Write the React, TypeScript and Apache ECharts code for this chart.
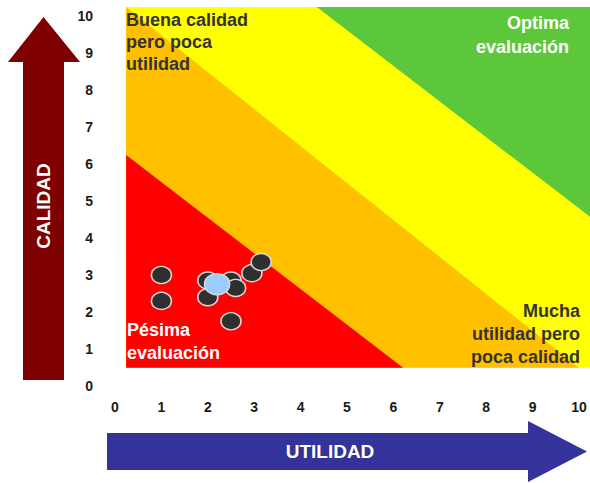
import React, { useEffect, useRef } from "react";
import * as echarts from "echarts";

// Data points (utilidad, calidad)
const utilidad = [1, 1, 2, 2, 2.5, 2.6, 2.95, 3.15, 2.5];
const calidad = [3, 2.3, 2.85, 2.4, 2.85, 2.65, 3.05, 3.35, 1.75];
const highlight = [2.2, 2.75];

const xTicks = [0, 10];
const yTicks = [0, 10];

// Background zones in data coordinates
const zoneYellow = [[0.24, 0.49], [10.24, 0.49], [10.24, 10.24], [0.24, 10.24]];
const zoneOrange = [[0.24, 10.24], [0.24, 0.49], [10.0, 0.49]];
const zoneRed = [[0.24, 6.24], [0.24, 0.49], [6.21, 0.49]];
const zoneGreen = [[4.35, 10.24], [10.24, 10.24], [10.24, 4.57]];
const zones = [zoneYellow, zoneOrange, zoneRed, zoneGreen];
const zoneColors = ["#FFFF00", "#FFC000", "#FF0000", "#5CC73B"];

const FONT = "'Liberation Sans', Arial, sans-serif";

export default function App() {
  const ref = useRef<HTMLDivElement>(null);
  useEffect(() => {
    if (!ref.current) return;
    const chart = echarts.init(ref.current, undefined, { renderer: "svg" });
    const option: any = {
      animation: false,
      backgroundColor: "#ffffff",
      grid: { left: 115, right: 11, top: 16, bottom: 97 },
      xAxis: {
        type: "value",
        min: xTicks[0],
        max: xTicks[1],
        interval: 1,
        axisLine: { show: false },
        axisTick: { show: false },
        splitLine: { show: false },
        axisLabel: { color: "#1a1a1a", fontWeight: "bold", fontSize: 14, fontFamily: FONT, margin: 14 },
      },
      yAxis: {
        type: "value",
        min: yTicks[0],
        max: yTicks[1],
        interval: 1,
        axisLine: { show: false },
        axisTick: { show: false },
        splitLine: { show: false },
        axisLabel: { color: "#1a1a1a", fontWeight: "bold", fontSize: 14, fontFamily: FONT, margin: 22 },
      },
      series: [
        {
          type: "custom",
          silent: true,
          clip: false,
          z: 1,
          data: zones.map((_, i) => [i, 0]),
          renderItem: (params: any, api: any) => {
            const pts = zones[params.dataIndex].map((p) => api.coord(p));
            return {
              type: "polygon",
              shape: { points: pts },
              style: { fill: zoneColors[params.dataIndex] },
            };
          },
        },
        {
          type: "scatter",
          z: 3,
          symbol: "circle",
          symbolSize: [20, 17],
          itemStyle: { color: "#2f2f2f", borderColor: "#d9d9d9", borderWidth: 1.5, opacity: 1 },
          data: utilidad.map((u, i) => [u, calidad[i]]),
        },
        {
          type: "scatter",
          z: 4,
          symbol: "circle",
          symbolSize: [25, 21],
          itemStyle: { color: "#99CCFF", borderColor: "#d9d9d9", borderWidth: 1.5, opacity: 1 },
          data: [highlight],
        },
      ],
      graphic: [
        // vertical arrow
        {
          type: "polygon",
          shape: {
            points: [[23, 380], [64, 380], [64, 62], [80, 62], [43.5, 17], [8, 62], [23, 62]],
          },
          style: { fill: "#7F0000" },
        },
        {
          type: "text",
          x: 43.5,
          y: 206,
          rotation: Math.PI / 2,
          style: {
            text: "CALIDAD",
            fill: "#ffffff",
            fontSize: 19,
            fontWeight: "bold",
            fontFamily: FONT,
            align: "center",
            verticalAlign: "middle",
          },
        },
        // horizontal arrow
        {
          type: "polygon",
          shape: {
            points: [[107, 433], [528, 433], [528, 421], [587, 451.5], [528, 482], [528, 470], [107, 470]],
          },
          style: { fill: "#333399" },
        },
        {
          type: "text",
          x: 330,
          y: 451,
          style: {
            text: "UTILIDAD",
            fill: "#ffffff",
            fontSize: 19,
            fontWeight: "bold",
            fontFamily: FONT,
            align: "center",
            verticalAlign: "middle",
          },
        },
        // zone labels
        {
          type: "text",
          x: 126,
          y: 9,
          z: 10,
          style: {
            text: "Buena calidad\npero poca\nutilidad",
            fill: "#333333",
            fontSize: 18,
            fontWeight: "bold",
            fontFamily: FONT,
            align: "left",
            verticalAlign: "top",
            lineHeight: 22,
          },
        },
        {
          type: "text",
          x: 569,
          y: 11,
          z: 10,
          style: {
            text: "Optima\nevaluación",
            fill: "#ffffff",
            fontSize: 18,
            fontWeight: "bold",
            fontFamily: FONT,
            align: "right",
            verticalAlign: "top",
            lineHeight: 24,
          },
        },
        {
          type: "text",
          x: 580,
          y: 299,
          z: 10,
          style: {
            text: "Mucha\nutilidad pero\npoca calidad",
            fill: "#333333",
            fontSize: 18,
            fontWeight: "bold",
            fontFamily: FONT,
            align: "right",
            verticalAlign: "top",
            lineHeight: 23,
          },
        },
        {
          type: "text",
          x: 127,
          y: 318,
          z: 10,
          style: {
            text: "Pésima\nevaluación",
            fill: "#ffffff",
            fontSize: 18,
            fontWeight: "bold",
            fontFamily: FONT,
            align: "left",
            verticalAlign: "top",
            lineHeight: 23,
          },
        },
      ],
    };
    chart.setOption(option);
    return () => chart.dispose();
  }, []);
  return (
    <div
      ref={ref}
      style={{ position: "fixed", left: 0, top: 0, width: 590, height: 483 }}
    />
  );
}
